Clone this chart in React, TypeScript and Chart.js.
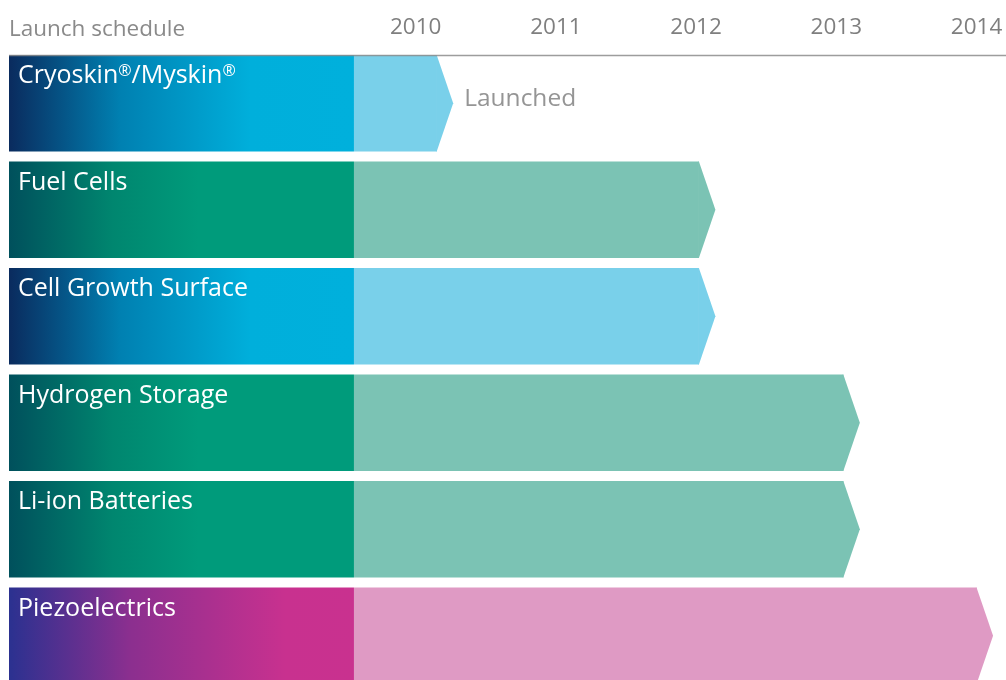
import React, { useEffect, useRef } from "react";
import { Chart, registerables } from "chart.js";

Chart.register(...registerables);

// ---- data ----
const CATEGORIES = [
  "Cryoskin®/Myskin®",
  "Fuel Cells",
  "Cell Growth Surface",
  "Hydrogen Storage",
  "Li-ion Batteries",
  "Piezoelectrics",
];
// year at which each launch arrow body ends
const LAUNCH_END = [2010.15, 2012.02, 2012.02, 2013.05, 2013.05, 2014.0];
const FAMILY = ["blue", "green", "blue", "green", "green", "pink"];
const YEAR_TICKS = [2010, 2011, 2012, 2013, 2014];
const NOTES = ["Launched", "", "", "", "", ""];
const TITLE = "Launch schedule";

// scale range (years)
const X_MIN = 2007.1;
const X_MAX = 2014.21;
const BOX_END = 2009.56;

const GRADIENTS: Record<string, [number, string][]> = {
  blue: [
    [0, "#0a2b5e"],
    [0.32, "#0080b1"],
    [0.7, "#00afdb"],
    [1, "#00b0dc"],
  ],
  green: [
    [0, "#00505c"],
    [0.3, "#00866f"],
    [0.55, "#009b7b"],
    [1, "#009b7b"],
  ],
  pink: [
    [0, "#2b3190"],
    [0.35, "#8b2f8f"],
    [0.8, "#c8318f"],
    [1, "#c9318f"],
  ],
};
const LIGHT: Record<string, string> = {
  blue: "#79d0ea",
  green: "#7bc3b4",
  pink: "#df9ac4",
};

const FONT = "'Open Sans', 'Noto Sans', sans-serif";

const decorPlugin = {
  id: "decor",
  afterDatasetsDraw(chart: any) {
    const ctx = chart.ctx;
    const area = chart.chartArea;
    const boxMeta = chart.getDatasetMeta(0);
    const arrowMeta = chart.getDatasetMeta(1);
    ctx.save();
    // arrow heads
    arrowMeta.data.forEach((el: any, i: number) => {
      const top = el.y - el.height / 2;
      const bottom = el.y + el.height / 2;
      const depth = 16.5;
      ctx.beginPath();
      ctx.moveTo(el.x - 0.6, top);
      ctx.lineTo(el.x, top);
      ctx.lineTo(el.x + depth, el.y);
      ctx.lineTo(el.x, bottom);
      ctx.lineTo(el.x - 0.6, bottom);
      ctx.closePath();
      ctx.fillStyle = LIGHT[FAMILY[i]];
      ctx.fill();
      // notes
      if (NOTES[i]) {
        ctx.font = `24.5px ${FONT}`;
        ctx.fillStyle = "#959595";
        ctx.textAlign = "left";
        ctx.textBaseline = "alphabetic";
        ctx.fillText(NOTES[i], el.x + depth + 11, el.y + 3);
      }
    });
    // row labels
    boxMeta.data.forEach((el: any, i: number) => {
      const left = Math.min(el.x, el.base);
      const top = el.y - el.height / 2;
      const baseY = top + 28;
      let x = left + 9;
      const parts = CATEGORIES[i].split(/(®)/);
      ctx.fillStyle = "#ffffff";
      ctx.textAlign = "left";
      ctx.textBaseline = "alphabetic";
      parts.forEach((p: string) => {
        if (!p) return;
        if (p === "®") {
          ctx.font = `16px ${FONT}`;
          ctx.fillText(p, x, baseY - 7.5);
          x += ctx.measureText(p).width;
        } else {
          ctx.font = `25px ${FONT}`;
          ctx.fillText(p, x, baseY);
          x += ctx.measureText(p).width;
        }
      });
    });
    // top axis rule
    const first = boxMeta.data[0];
    if (first) {
      const y = Math.round(first.y - first.height / 2) + 0.5;
      ctx.beginPath();
      ctx.moveTo(area.left, y);
      ctx.lineTo(chart.width, y);
      ctx.strokeStyle = "rgba(140,140,140,0.85)";
      ctx.lineWidth = 1.4;
      ctx.stroke();
    }
    // title
    ctx.font = `22.5px ${FONT}`;
    ctx.fillStyle = "#8a8a8a";
    ctx.textAlign = "left";
    ctx.textBaseline = "alphabetic";
    ctx.fillText(TITLE, area.left, 36);
    ctx.restore();
  },
};

export default function App() {
  const canvasRef = useRef<HTMLCanvasElement | null>(null);

  useEffect(() => {
    if (!canvasRef.current) return;
    const boxGradient = (ctx: any) => {
      const chart = ctx.chart;
      const xs = chart.scales.x;
      const fam = FAMILY[ctx.dataIndex] || "blue";
      if (!xs || !chart.chartArea) return GRADIENTS[fam][2][1];
      const x0 = xs.getPixelForValue(X_MIN);
      const x1 = xs.getPixelForValue(BOX_END);
      const g = chart.ctx.createLinearGradient(x0, 0, x1, 0);
      GRADIENTS[fam].forEach(([o, c]) => g.addColorStop(o, c));
      return g;
    };
    const chart = new Chart(canvasRef.current, {
      type: "bar",
      data: {
        labels: CATEGORIES,
        datasets: [
          {
            label: "Programme",
            data: CATEGORIES.map(() => [X_MIN, BOX_END]) as any,
            backgroundColor: boxGradient as any,
            grouped: false,
            barPercentage: 0.906,
            categoryPercentage: 1,
            borderWidth: 0,
          } as any,
          {
            label: "Launch",
            data: LAUNCH_END.map((v) => [BOX_END, v]) as any,
            backgroundColor: FAMILY.map((f) => LIGHT[f]),
            grouped: false,
            barPercentage: 0.906,
            categoryPercentage: 1,
            borderWidth: 0,
          } as any,
        ],
      },
      options: {
        indexAxis: "y",
        animation: false,
        responsive: true,
        maintainAspectRatio: false,
        layout: { padding: { top: 0, left: 9, right: 0, bottom: 0 } },
        plugins: {
          legend: { display: false },
          tooltip: { enabled: false },
          title: { display: false },
        },
        scales: {
          x: {
            type: "linear",
            position: "top",
            min: X_MIN,
            max: X_MAX,
            grid: { display: false, drawTicks: false },
            border: { display: false },
            afterBuildTicks: (scale: any) => {
              scale.ticks = YEAR_TICKS.map((v) => ({ value: v }));
            },
            afterFit: (scale: any) => {
              scale.height = 50;
              scale.paddingLeft = 0;
              scale.paddingRight = 0;
            },
            ticks: {
              padding: 9,
              color: "#7f7f7f",
              font: { family: FONT, size: 22.5 },
              callback: (v: any) => String(v),
              maxRotation: 0,
              autoSkip: false,
            },
          },
          y: {
            type: "category",
            display: false,
            grid: { display: false },
          },
        },
      },
      plugins: [decorPlugin],
    });
    return () => chart.destroy();
  }, []);

  return (
    <div
      style={{
        position: "fixed",
        left: 0,
        top: 0,
        width: "1006px",
        height: "689px",
        background: "#ffffff",
      }}
    >
      <canvas ref={canvasRef} />
    </div>
  );
}
